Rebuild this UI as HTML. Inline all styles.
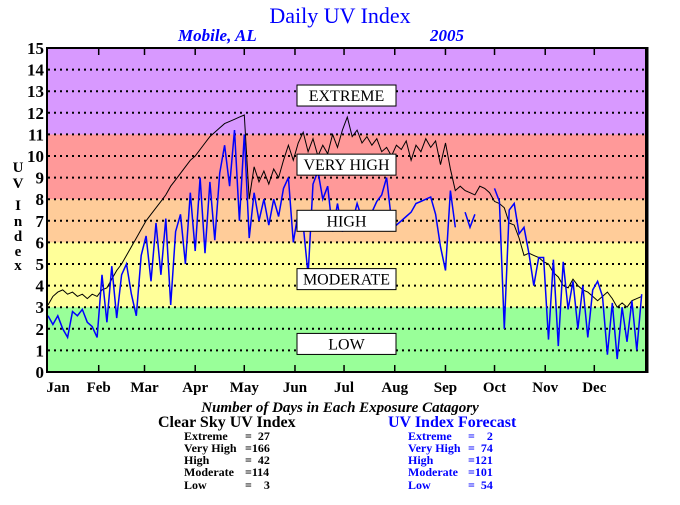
<!DOCTYPE html>
<html><head><meta charset="utf-8"><style>
body{margin:0;background:#fff;}
svg text{font-family:"Liberation Serif",serif;}
.pre text{white-space:pre;}
</style></head><body>
<svg width="680" height="500" viewBox="0 0 680 500" id="chart">
<text x="340" y="23" text-anchor="middle" font-size="22" fill="#0000ff">Daily UV Index</text>
<text x="178" y="41" font-size="17" font-weight="bold" font-style="italic" fill="#0000ff">Mobile, AL</text>
<text x="430" y="41" font-size="17" font-weight="bold" font-style="italic" fill="#0000ff">2005</text>
<g id="bands"></g>
<g id="grid"></g>
<g id="series"></g>
<g id="boxes"></g>
<g id="axes"></g>
<g font-size="15" font-weight="bold" text-anchor="middle">
<text x="18" y="172">U</text><text x="18" y="188">V</text><text x="18" y="210">I</text><text x="18" y="226">n</text><text x="18" y="241">d</text><text x="18" y="256">e</text><text x="18" y="270">x</text>
</g>
<text x="340" y="412" text-anchor="middle" font-size="15" font-weight="bold" font-style="italic">Number of Days in Each Exposure Catagory</text>
<g class="pre" font-weight="bold">
<text x="158" y="427" font-size="16">Clear Sky UV Index</text>
<g font-size="12"><text x="184" y="440">Extreme</text><text x="245" y="440">=  27</text>
<text x="184" y="452">Very High</text><text x="245" y="452">=166</text>
<text x="184" y="464">High</text><text x="245" y="464">=  42</text>
<text x="184" y="476">Moderate</text><text x="245" y="476">=114</text>
<text x="184" y="489">Low</text><text x="245" y="489">=    3</text></g>
</g>
<g class="pre" font-weight="bold" fill="#0000ff">
<text x="388" y="427" font-size="16">UV Index Forecast</text>
<g font-size="12"><text x="408" y="440">Extreme</text><text x="468" y="440">=    2</text>
<text x="408" y="452">Very High</text><text x="468" y="452">=  74</text>
<text x="408" y="464">High</text><text x="468" y="464">=121</text>
<text x="408" y="476">Moderate</text><text x="468" y="476">=101</text>
<text x="408" y="489">Low</text><text x="468" y="489">=  54</text></g>
</g>
</svg>
<script>
const months=["Jan","Feb","Mar","Apr","May","Jun","Jul","Aug","Sep","Oct","Nov","Dec"];
const monthStartDays=[0,31,59,90,120,151,181,212,243,273,304,334];
const yTicks=[0,1,2,3,4,5,6,7,8,9,10,11,12,13,14,15];
const bandLows=[0,3,6,8,11];
const bandHighs=[3,6,8,11,15];
const bandColors=["#99ff99","#ffff99","#ffcc99","#ff9999","#d899ff"];
const categoryNames=["LOW","MODERATE","HIGH","VERY HIGH","EXTREME"];
const categoryLabelValues=[1.3,4.3,7.0,9.6,12.8];
const sampleStepDays=3;
const clearSky=[3.1,3.5,3.7,3.8,3.6,3.7,3.5,3.6,3.4,3.6,3.5,3.8,3.9,4.3,4.7,5.0,5.4,5.8,6.2,6.6,7.0,7.3,7.6,7.9,8.2,8.6,8.9,9.2,9.5,9.8,10.0,10.3,10.6,10.9,11.1,11.3,11.5,11.6,11.7,11.8,11.9,8.0,9.5,8.8,9.3,8.7,9.4,9.0,9.8,10.5,9.8,10.6,11.1,10.2,10.8,10.0,10.5,10.1,11.0,10.4,11.2,11.8,10.9,11.2,10.6,10.9,10.5,10.8,10.2,10.4,10.0,10.5,10.3,10.7,9.8,10.5,10.2,10.8,10.4,10.7,9.6,10.6,9.4,8.4,8.6,8.4,8.3,8.2,8.6,8.5,8.3,7.9,7.8,7.6,6.9,6.8,6.2,5.4,5.5,5.4,5.3,5.1,5.0,4.6,4.4,4.0,3.9,4.3,4.0,3.8,3.7,3.5,3.3,3.5,3.7,3.4,3.0,3.2,3.0,3.3,3.4,3.5];
const forecast=[2.6,2.2,2.6,2.0,1.6,2.8,2.6,2.9,2.3,2.1,1.6,
4.5,2.3,4.9,2.5,4.5,5.0,3.6,2.6,5.4,
6.3,4.2,6.9,4.5,7.1,3.1,6.5,7.3,5.0,8.3,
5.6,9.0,5.5,8.8,6.1,9.2,10.5,8.6,11.2,7.0,11.0,
6.2,8.3,7.0,8.0,6.8,8.0,7.2,8.5,9.0,6.0,
7.4,6.8,4.5,8.7,9.3,8.0,8.6,6.5,7.8,6.5,
7.2,6.9,7.8,7.1,7.0,7.4,7.9,8.2,9.0,7.0,
6.8,7.0,7.2,7.4,7.8,7.9,8.0,8.1,7.3,5.8,4.7,
8.4,6.7,null,7.4,6.7,7.3,null,5.2,null,
8.5,7.9,2.0,7.5,7.8,6.4,6.7,5.5,4.0,5.3,5.3,
1.5,5.2,1.2,5.1,2.9,4.2,2.0,4.0,1.6,3.8,
4.2,3.5,0.8,3.2,0.6,3.0,1.4,3.3,1.0,3.6];

const X0=48,X1=645,Y0=372,Y1=48,VMAX=15,DAYS=365;
const xs=d=>X0+d*(X1-X0)/DAYS;
const ys=v=>Y0-v*(Y0-Y1)/VMAX;
const NS="http://www.w3.org/2000/svg";
function mk(tag,attrs,parent){const e=document.createElementNS(NS,tag);for(const k in attrs)e.setAttribute(k,attrs[k]);parent.appendChild(e);return e;}
const bands=document.getElementById('bands'),grid=document.getElementById('grid'),series=document.getElementById('series'),boxes=document.getElementById('boxes'),axes=document.getElementById('axes');
bandLows.forEach((lo,i)=>{
 const r=mk('rect',{x:X0,y:ys(bandHighs[i]),width:X1-X0,height:ys(lo)-ys(bandHighs[i]),fill:bandColors[i]},bands);
 
 
});
yTicks.forEach(v=>{
 if(v>0&&v<VMAX){const l=mk('line',{x1:X0,x2:X1,y1:ys(v),y2:ys(v),stroke:'#000','stroke-width':2,'stroke-dasharray':'2 4'},grid);
 
 }
 const t=mk('text',{x:44,y:ys(v)+6,'text-anchor':'end','font-size':17,'font-weight':'bold'},axes);
 t.textContent=v;
 
 
});
function path(vals,color,name){
 let d='',pen=false;
 vals.forEach((v,i)=>{if(v===null||v===undefined){pen=false;return;}d+=(pen?'L':'M')+xs(i*sampleStepDays).toFixed(1)+' '+ys(v).toFixed(1)+' ';pen=true;});
 const p=mk('path',{d:d,fill:'none',stroke:color,'stroke-width':color==='#000'?1:1.5},series);
 
 
}
path(clearSky,'#000','clear-sky-line');
path(forecast,'#0000ff','forecast-line');
categoryNames.forEach((n,i)=>{
 const g=mk('g',{},boxes);
 
 
 const cy=ys(categoryLabelValues[i]);
 mk('rect',{x:297,y:cy-10.5,width:99,height:21,fill:'#fff',stroke:'#000','stroke-width':1},g);
 const t=mk('text',{x:346.5,y:cy+5.5,'text-anchor':'middle','font-size':16},g);
 t.textContent=n;
});
const frame=mk('rect',{x:X0-1,y:Y1,width:X1-X0+2,height:Y0-Y1,fill:'none',stroke:'#000','stroke-width':2},axes);


const rb=mk('line',{x1:X1+2,x2:X1+2,y1:Y1-1,y2:Y0+1,stroke:'#000','stroke-width':3},axes);


months.forEach((m,i)=>{
 const x=xs(monthStartDays[i]);
 if(i>0){mk('line',{x1:x,x2:x,y1:Y0,y2:Y0-7,stroke:'#000','stroke-width':1.5},axes);
 mk('line',{x1:x,x2:x,y1:Y1,y2:Y1+7,stroke:'#000','stroke-width':1.5},axes);}
 const t=mk('text',{x:i===0?58:x,y:392,'text-anchor':'middle','font-size':15,'font-weight':'bold'},axes);
 t.textContent=m;
 
 
});
</script>
</body></html>
